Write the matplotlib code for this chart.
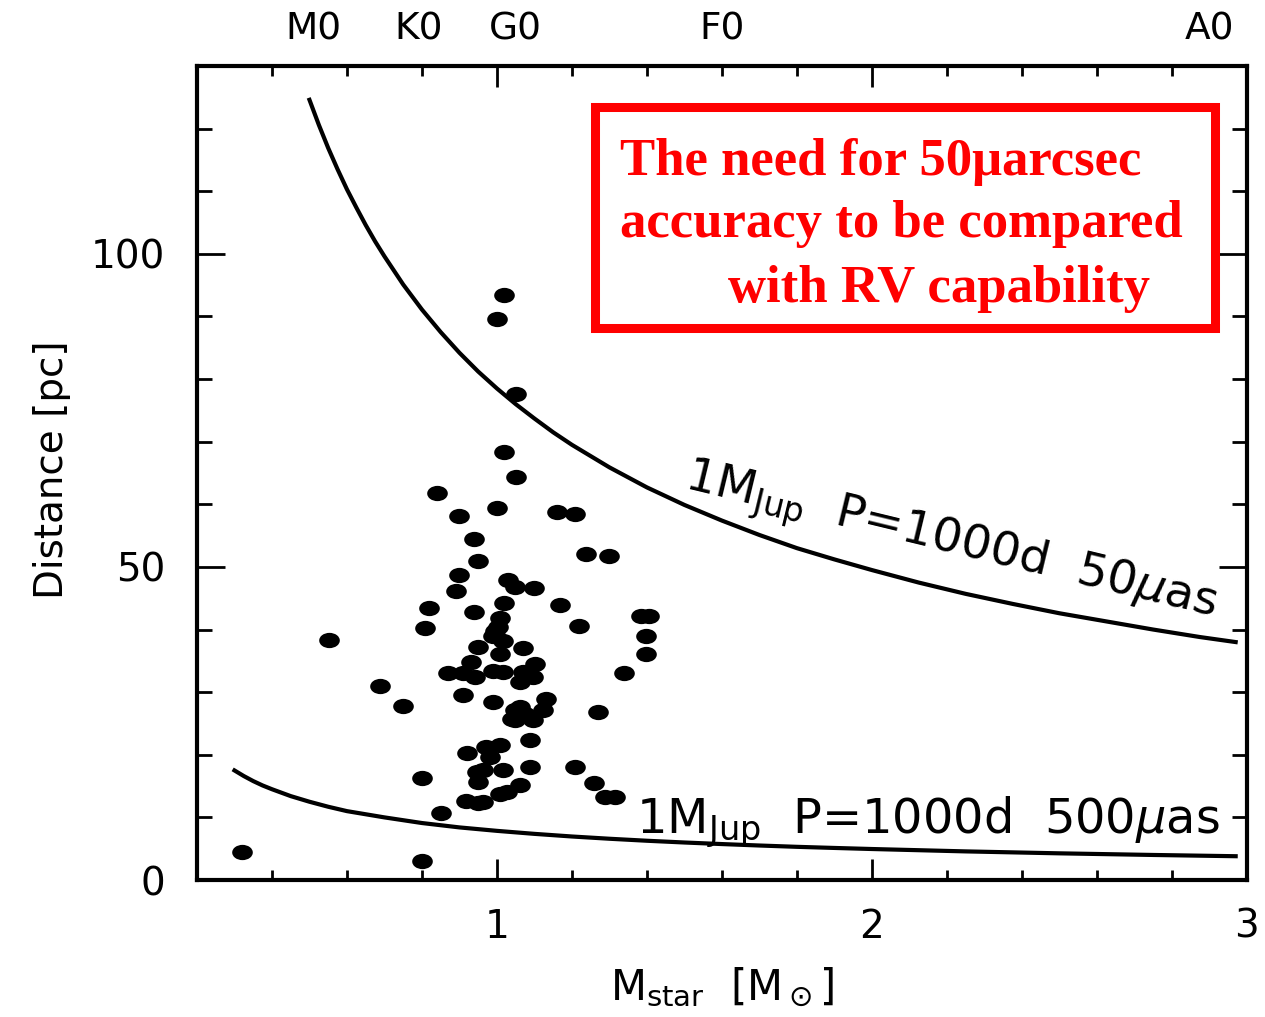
import numpy as np
import matplotlib
matplotlib.use('Agg')
import matplotlib.pyplot as plt
from matplotlib.markers import MarkerStyle
from matplotlib.transforms import Affine2D
from matplotlib.ticker import MultipleLocator, FixedLocator
import matplotlib.patches as patches

# звёзды с планетами: масса звезды [M_sun] и расстояние [pc]
star_mass = [0.321, 0.801, 0.551, 0.689, 0.749, 0.800, 0.850, 0.840, 0.900, 0.939,
             0.950, 0.900, 0.890, 0.820, 0.939, 0.809, 0.950, 0.930, 0.869, 0.910,
             0.941, 0.909, 0.919, 0.946, 0.950, 0.918, 0.950, 1.019, 0.999, 1.050,
             1.019, 1.050, 0.999, 1.159, 1.209, 1.238, 1.298, 1.030, 1.048, 1.099,
             1.019, 1.169, 1.385, 1.405, 1.008, 1.219, 1.004, 0.995, 0.990, 1.015,
             1.398, 1.070, 1.008, 1.398, 1.101, 0.990, 1.017, 1.097, 1.070, 1.061,
             1.339, 0.990, 1.132, 1.123, 1.048, 1.048, 1.097, 1.074, 1.269, 1.088,
             1.008, 0.972, 1.088, 1.207, 0.981, 1.017, 0.964, 1.061, 1.026, 1.008,
             0.964, 1.259, 1.287, 1.314, 1.061, 1.039]
star_dist = [4.5, 3.1, 38.3, 31.0, 27.8, 16.3, 10.7, 61.8, 58.1, 54.4,
             51.0, 48.7, 46.1, 43.4, 42.8, 40.3, 37.2, 34.8, 33.1, 33.1,
             32.4, 29.6, 20.3, 17.2, 15.6, 12.6, 12.3, 93.5, 89.6, 77.6,
             68.3, 64.3, 59.4, 58.8, 58.5, 52.0, 51.8, 47.9, 46.8, 46.7,
             44.2, 43.9, 42.2, 42.2, 41.9, 40.6, 40.4, 39.8, 39.0, 38.2,
             38.9, 37.1, 36.1, 36.1, 34.5, 33.3, 33.2, 32.4, 33.2, 31.6,
             33.0, 28.5, 28.9, 27.1, 27.2, 25.5, 25.5, 26.5, 26.8, 22.3,
             21.5, 21.2, 18.0, 18.0, 19.6, 17.5, 17.5, 15.1, 14.1, 13.8,
             12.5, 15.5, 13.3, 13.3, 27.6, 25.7]

# кривые 1 M_Jup, P=1000d (50 и 500 мкс дуги)
curve_mass_50 = [0.50, 0.525, 0.55, 0.575, 0.60, 0.625, 0.65, 0.675, 0.70, 0.75, 0.80,
                 0.85, 0.90, 0.95, 1.00, 1.05, 1.10, 1.15, 1.20, 1.30, 1.40, 1.50,
                 1.60, 1.70, 1.80, 1.90, 2.00, 2.125, 2.25, 2.375, 2.50, 2.625,
                 2.75, 2.875, 2.97]
curve_dist_50 = [124.6, 120.6, 116.9, 113.5, 110.3, 107.4, 104.6, 102.0, 99.6, 95.1, 91.1,
                 87.5, 84.2, 81.2, 78.5, 76.0, 73.7, 71.5, 69.5, 65.9, 62.7, 59.9,
                 57.4, 55.1, 53.0, 51.2, 49.5, 47.5, 45.7, 44.1, 42.6, 41.3,
                 40.0, 38.8, 38.0]
curve_mass_500 = [0.30, 0.325, 0.35, 0.375, 0.40, 0.45, 0.50, 0.55, 0.60, 0.65, 0.70,
                  0.80, 0.90, 1.00, 1.10, 1.20, 1.30, 1.40, 1.50, 1.60, 1.70, 1.80,
                  1.90, 2.00, 2.25, 2.50, 2.75, 2.97]
curve_dist_500 = [17.5, 16.6, 15.8, 15.1, 14.5, 13.4, 12.5, 11.7, 11.0, 10.5, 10.0,
                  9.1, 8.4, 7.85, 7.37, 6.95, 6.59, 6.27, 5.99, 5.74, 5.51, 5.30,
                  5.12, 4.95, 4.57, 4.26, 4.00, 3.80]

# спектральные классы сверху
spectral_types = ['M0', 'K0', 'G0', 'F0', 'A0']
spectral_mass = [0.51, 0.79, 1.05, 1.60, 2.90]

plt.rcParams['font.family'] = ['DejaVu Sans']
plt.rcParams['mathtext.fontset'] = 'dejavusans'

fig = plt.figure(figsize=(12.65, 10.17), dpi=100)
ax = fig.add_axes([0.1557, 0.1347, 0.830, 0.8004])

# кривые
ax.plot(curve_mass_50, curve_dist_50, color='black', lw=3)
ax.plot(curve_mass_500, curve_dist_500, color='black', lw=3)

# точки (слегка вытянутые эллипсы)
dot = MarkerStyle('o', transform=Affine2D().scale(1.35, 1.0))
ax.plot(star_mass, star_dist, linestyle='none', marker=dot, markersize=11,
        color='black', markeredgewidth=0)

ax.set_xlim(0.2, 3.0)
ax.set_ylim(0, 130)

ax.xaxis.set_major_locator(FixedLocator([1, 2, 3]))
ax.xaxis.set_minor_locator(MultipleLocator(0.2))
ax.yaxis.set_major_locator(FixedLocator([0, 50, 100]))
ax.yaxis.set_minor_locator(MultipleLocator(10))
ax.set_xticklabels(['1', '2', '3'])
ax.set_yticklabels(['0', '50', '100'])

ax.tick_params(which='both', direction='in', top=True, right=True, width=2)
ax.tick_params(axis='x', which='major', length=15, labelsize=28, pad=20)
ax.tick_params(axis='x', which='minor', length=7.5)
ax.tick_params(axis='y', which='major', length=20, labelsize=28, pad=23)
ax.tick_params(axis='y', which='minor', length=11)
for s in ax.spines.values():
    s.set_linewidth(3)

ax.set_xlabel(r'M$_{\rm star}$  [M$_\odot$]', fontsize=30)
ax.xaxis.set_label_coords(0.5, -0.105)
ax.set_ylabel('Distance [pc]', fontsize=28)
ax.yaxis.set_label_coords(-0.12, 0.504)

# подписи кривых
ax.text(1.495, 62.6, r'1M$_{\rm Jup}$  P=1000d  50$\mu$as', fontsize=34,
        rotation=-13.6, rotation_mode='anchor', ha='left', va='baseline')
ax.text(1.372, 7.5, r'1M$_{\rm Jup}$  P=1000d  500$\mu$as', fontsize=34.5,
        ha='left', va='baseline')

# спектральные классы
for sp, m in zip(spectral_types, spectral_mass):
    ax.text(m, 1.045, sp, transform=ax.get_xaxis_transform(), fontsize=27,
            ha='center', va='center')

# красная рамка с текстом
box = patches.Rectangle((0.4704, 0.6775), 0.4901, 0.2173, transform=fig.transFigure,
                        facecolor='white', edgecolor='red', lw=6.5, zorder=5)
fig.add_artist(box)
red = dict(color='red', fontsize=38, fontweight='bold', family='Liberation Serif',
           ha='left', va='baseline', zorder=6)
fig.text(0.4901, 0.8279, 'The need for 50\u03bcarcsec', **red)
fig.text(0.4901, 0.767, 'accuracy to be compared', **red)
fig.text(0.5755, 0.703, 'with RV capability', **red)

plt.savefig('out.png', dpi=100)
